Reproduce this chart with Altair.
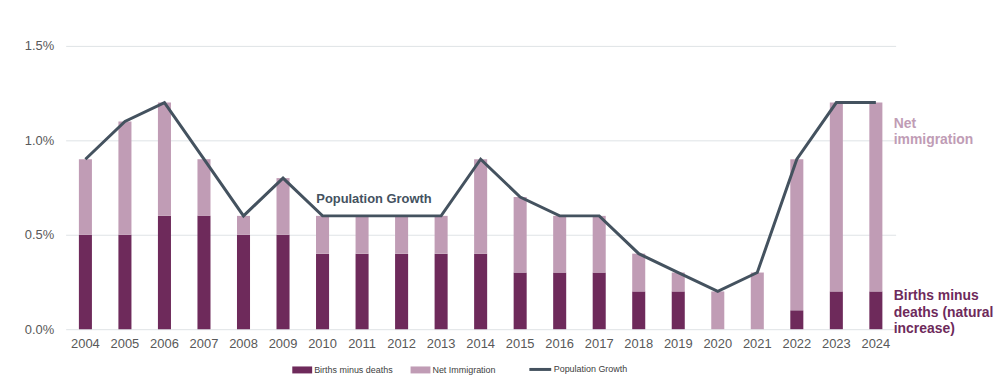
import altair as alt
import pandas as pd

years = [str(y) for y in range(2004, 2025)]
births = [0.5, 0.5, 0.6, 0.6, 0.5, 0.5, 0.4, 0.4, 0.4, 0.4, 0.4, 0.3, 0.3, 0.3, 0.2, 0.2, 0.0, 0.0, 0.1, 0.2, 0.2]
net_imm = [0.4, 0.6, 0.6, 0.3, 0.1, 0.3, 0.2, 0.2, 0.2, 0.2, 0.5, 0.4, 0.3, 0.3, 0.2, 0.1, 0.2, 0.3, 0.8, 1.0, 1.0]
pop_growth = [0.9, 1.1, 1.2, 0.9, 0.6, 0.8, 0.6, 0.6, 0.6, 0.6, 0.9, 0.7, 0.6, 0.6, 0.4, 0.3, 0.2, 0.3, 0.9, 1.2, 1.2]

series_names = ["Births minus deaths", "Net Immigration"]
DARK = "#6e2a5b"
LIGHT = "#c09cb5"
LINE = "#44525f"
FONT = "Liberation Sans"

rows = []
for i, y in enumerate(years):
    rows.append({"year": y, "series": series_names[0], "value": births[i] / 100, "order": 0})
    rows.append({"year": y, "series": series_names[1], "value": net_imm[i] / 100, "order": 1})
bars_df = pd.DataFrame(rows)
line_df = pd.DataFrame({"year": years, "value": [v / 100 for v in pop_growth], "series": ["Population Growth"] * len(years)})

ann_df = pd.DataFrame({
    "year": ["2011", "2024", "2024"],
    "value": [0.0069, 0.01084, 0.00174],
    "text": [["Population Growth"], ["Net", "immigration"], ["Births minus", "deaths (natural", "increase)"]],
    "kind": ["pg", "ni", "bd"],
})

x_enc = alt.X("year:N", title=None, sort=years,
              scale=alt.Scale(paddingInner=0.67, paddingOuter=0.335),
              axis=alt.Axis(labelAngle=0, ticks=False, domain=False, labelFontSize=13,
                            labelColor="#595959", labelFont=FONT, labelPadding=8))
y_scale = alt.Scale(domain=[0, 0.015])

bars = alt.Chart(bars_df).mark_bar().encode(
    x=x_enc,
    y=alt.Y("value:Q", stack="zero", scale=y_scale, title=None,
            axis=alt.Axis(format=".1%", values=[0, 0.005, 0.01, 0.015], ticks=False, domain=False,
                          gridColor="#dfe3e6", labelFontSize=13, labelColor="#595959", labelFont=FONT,
                          labelPadding=12, minExtent=58, maxExtent=58)),
    color=alt.Color("series:N", sort=series_names,
                    scale=alt.Scale(domain=series_names, range=[DARK, LIGHT]),
                    legend=alt.Legend(title=None, orient="none", direction="horizontal",
                                      legendX=228, legendY=316,
                                      symbolType="M-1,-0.35H1V0.35H-1Z", symbolSize=400,
                                      labelFontSize=9, labelColor="#404040", labelFont=FONT,
                                      labelOffset=2, columnPadding=17, symbolStrokeWidth=0)),
    order=alt.Order("order:Q"),
)

line = alt.Chart(line_df).mark_line(strokeWidth=3).encode(
    x=alt.X("year:N", sort=years),
    y=alt.Y("value:Q", scale=y_scale),
    stroke=alt.Stroke("series:N", scale=alt.Scale(range=[LINE]),
                      legend=alt.Legend(title=None, orient="none", legendX=465, legendY=313,
                                        symbolType="stroke", symbolStrokeWidth=3, symbolSize=484,
                                        labelFontSize=9, labelColor="#404040", labelFont=FONT,
                                        labelOffset=1)),
)

pg_text = alt.Chart(ann_df[ann_df.kind == "pg"]).mark_text(
    fontWeight="bold", fontSize=13, color=LINE, font=FONT, align="center", dx=12
).encode(x=alt.X("year:N", sort=years), y=alt.Y("value:Q", scale=y_scale), text="text")

ni_text = alt.Chart(ann_df[ann_df.kind == "ni"]).mark_text(
    fontWeight="bold", fontSize=14, color=LIGHT, font=FONT, align="left", dx=18, lineHeight=16
).encode(x=alt.X("year:N", sort=years), y=alt.Y("value:Q", scale=y_scale), text="text")

bd_text = alt.Chart(ann_df[ann_df.kind == "bd"]).mark_text(
    fontWeight="bold", fontSize=14, color=DARK, font=FONT, align="left", dx=18, lineHeight=16.5
).encode(x=alt.X("year:N", sort=years), y=alt.Y("value:Q", scale=y_scale), text="text")

chart = alt.layer(bars, line, pg_text, ni_text, bd_text).resolve_scale(
    color="independent", stroke="independent"
).properties(
    width=835, height=285, padding={"top": 31, "left": 0, "right": 5, "bottom": 5}
).configure_view(stroke=None)

chart.save("out.html", embed_options={"renderer": "svg", "actions": False})
